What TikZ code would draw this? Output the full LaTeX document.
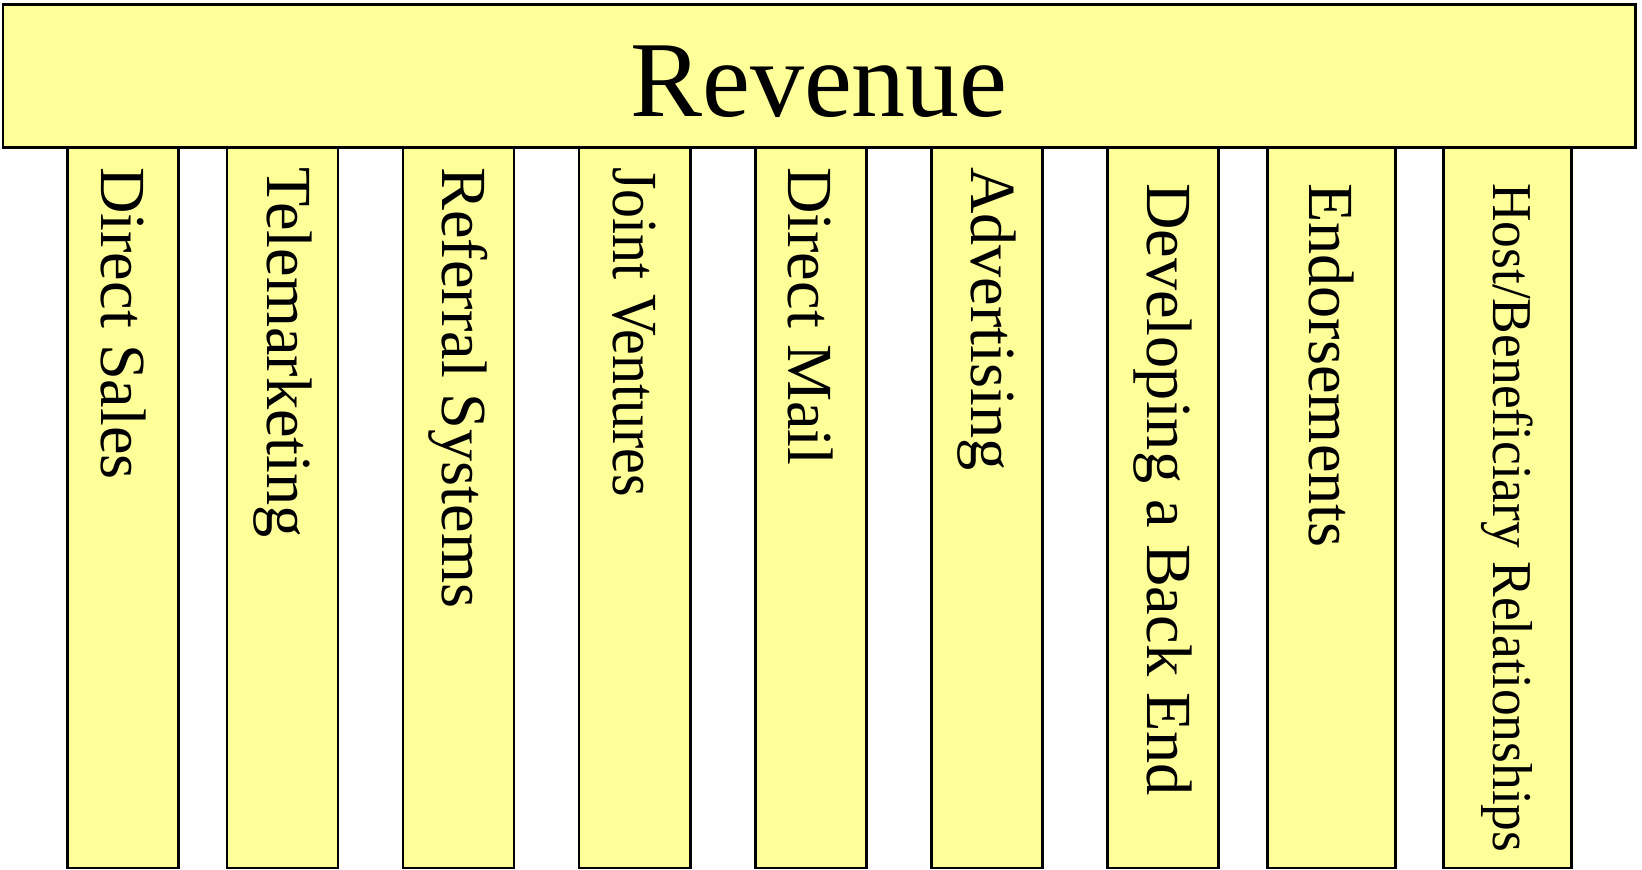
\documentclass[tikz,border=0pt]{standalone}
\usepackage{fontspec}
\setmainfont{Liberation Serif}
\usetikzlibrary{positioning}
\definecolor{pillarfill}{RGB}{255,255,153}

\begin{document}
\begin{tikzpicture}[
    pillar/.style={draw, line width=0.85pt, fill=pillarfill, inner sep=0pt,
      minimum width=1.11cm, minimum height=7.2cm},
    widepillar/.style={pillar, minimum width=1.28cm},
    pillartext/.style={rotate=-90, anchor=west, inner sep=0pt,
      font=\fontsize{18.3}{20}\selectfont},
    roof/.style={draw, line width=0.85pt, fill=pillarfill,
      minimum width=16.32cm, minimum height=1.43cm,
      text height=0.81cm, text depth=0cm,
      font=\fontsize{30.7}{34}\selectfont}]
  \useasboundingbox (0,0) rectangle (16.42,-8.70);
  % --- Pillars ---
  \node[pillar] (sales) at (1.23,-5.08) {};
  \node[pillar] (tele) at (2.825,-5.08) {};
  \node[pillar] (referral) at (4.585,-5.08) {};
  \node[pillar] (joint) at (6.345,-5.08) {};
  \node[pillar] (mail) at (8.105,-5.08) {};
  \node[pillar] (advert) at (9.865,-5.08) {};
  \node[pillar] (backend) at (11.625,-5.08) {};
  \node[widepillar] (endorse) at (13.31,-5.08) {};
  \node[widepillar] (host) at (15.07,-5.08) {};
  % --- Pillar labels, read top to bottom ---
  \node[pillartext] (salesText) at ([yshift=-0.2cm]sales.north) {Direct Sales};
  \node[pillartext] (teleText) at ([yshift=-0.2cm]tele.north) {Telemarketing};
  \node[pillartext] (referralText) at ([yshift=-0.2cm]referral.north) {Referral Systems};
  \node[pillartext] (jointText) at ([yshift=-0.2cm]joint.north) {\scalebox{0.9}[1]{Joint Ventures}};
  \node[pillartext] (mailText) at ([yshift=-0.2cm]mail.north) {Direct Mail};
  \node[pillartext] (advertText) at ([yshift=-0.2cm]advert.north) {Advertising};
  \node[pillartext] (backendText) at ([yshift=-0.36cm]backend.north) {Developing a Back End};
  \node[pillartext] (endorseText) at ([yshift=-0.36cm]endorse.north) {Endorsements};
  \node[pillartext, font=\fontsize{16}{18}\selectfont] (hostText)
    at ([yshift=-0.36cm]host.north) {\scalebox{0.95}[1]{Host/Beneficiary Relationships}};
  % --- Roof ---
  \node[roof] (revenue) at (8.19,-0.765) {Revenue};
\end{tikzpicture}
\end{document}
